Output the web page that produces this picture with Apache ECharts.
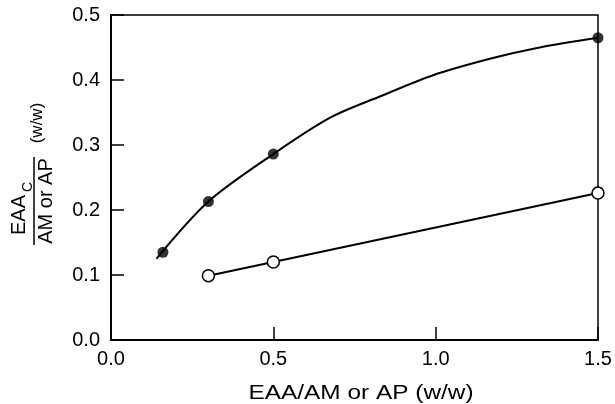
<!DOCTYPE html>
<html>
<head>
<meta charset="utf-8">
<script src="https://cdn.jsdelivr.net/npm/echarts@6/dist/echarts.min.js"></script>
<style>
  html, body { margin: 0; padding: 0; background: #fff; }
  #chart { width: 615px; height: 404px; }
</style>
</head>
<body>
<div id="chart"></div>
<script>
// filled circles (EAA_C) and the fitted curve through them
const filledX = [0.16, 0.30, 0.50, 1.50]
const filledY = [0.135, 0.213, 0.286, 0.465]
const fitX = [0.14, 0.30, 0.50, 0.675, 0.83, 0.99, 1.17, 1.32, 1.50]
const fitY = [0.125, 0.213, 0.286, 0.342, 0.375, 0.407, 0.433, 0.450, 0.465]

// open circles
const openX = [0.30, 0.50, 1.50]
const openY = [0.099, 0.120, 0.226]

const xTicks = [0.0, 0.5, 1.0, 1.5]
const yTicks = [0.0, 0.1, 0.2, 0.3, 0.4, 0.5]

const zip = (xs, ys) => xs.map((x, i) => [x, ys[i]])
const FONT = '"Liberation Sans", Arial, Helvetica, sans-serif'

const chart = echarts.init(document.getElementById('chart'))

chart.setOption({
  animation: false,
  backgroundColor: '#fff',
  grid: {
    left: 111, right: 17, top: 15, bottom: 64,
    show: true, borderColor: '#000', borderWidth: 1.5
  },
  xAxis: {
    type: 'value',
    min: xTicks[0], max: xTicks[xTicks.length - 1], interval: 0.5,
    axisLine: { lineStyle: { color: '#000', width: 2 } },
    axisTick: { inside: true, length: 13, lineStyle: { color: '#000', width: 1.5 } },
    axisLabel: {
      color: '#000', fontSize: 20, fontFamily: FONT, margin: 9,
      formatter: v => v.toFixed(1)
    },
    splitLine: { show: false }
  },
  yAxis: {
    type: 'value',
    min: yTicks[0], max: yTicks[yTicks.length - 1], interval: 0.1,
    axisLine: { lineStyle: { color: '#000', width: 2 } },
    axisTick: { inside: true, length: 13, lineStyle: { color: '#000', width: 1.5 } },
    axisLabel: {
      color: '#000', fontSize: 20, fontFamily: FONT, margin: 11,
      formatter: v => v.toFixed(1)
    },
    splitLine: { show: false }
  },
  series: [
    {
      type: 'line',
      data: zip(fitX, fitY),
      smooth: 0.3,
      showSymbol: false,
      lineStyle: { color: '#000', width: 2 },
      z: 2
    },
    {
      type: 'scatter',
      data: zip(filledX, filledY),
      symbol: 'circle',
      symbolSize: 11,
      itemStyle: { color: '#000' },
      z: 3
    },
    {
      type: 'line',
      data: zip(openX, openY),
      symbol: 'circle',
      symbolSize: 12,
      showAllSymbol: true,
      lineStyle: { color: '#000', width: 2 },
      itemStyle: { color: '#fff', borderColor: '#000', borderWidth: 1.5 },
      z: 3
    }
  ],
  graphic: [
    {
      type: 'text',
      x: 361, y: 393,
      scaleX: 1.22,
      style: {
        text: 'EAA/AM or AP (w/w)', fill: '#000',
        font: '20px ' + FONT,
        align: 'center', verticalAlign: 'middle'
      }
    },
    {
      // y axis title: fraction, rotated to read bottom-to-top
      type: 'group',
      x: 34, y: 201,
      rotation: Math.PI / 2,
      children: [
        {
          type: 'text',
          x: -14, y: -15,
          style: { text: 'EAA', fill: '#000', font: '20px ' + FONT, align: 'center', verticalAlign: 'middle' }
        },
        {
          type: 'text',
          x: 14, y: -6,
          style: { text: 'C', fill: '#000', font: '14px ' + FONT, align: 'center', verticalAlign: 'middle' }
        },
        {
          type: 'line',
          shape: { x1: -44, y1: 0, x2: 44, y2: 0 },
          style: { stroke: '#000', lineWidth: 1.5 }
        },
        {
          type: 'text',
          x: 0, y: 12,
          style: { text: 'AM or AP', fill: '#000', font: '20px ' + FONT, align: 'center', verticalAlign: 'middle' }
        },
        {
          type: 'text',
          x: 78, y: 3,
          style: { text: '(w/w)', fill: '#000', font: '17px ' + FONT, align: 'center', verticalAlign: 'middle' }
        }
      ]
    }
  ]
})
</script>
</body>
</html>
